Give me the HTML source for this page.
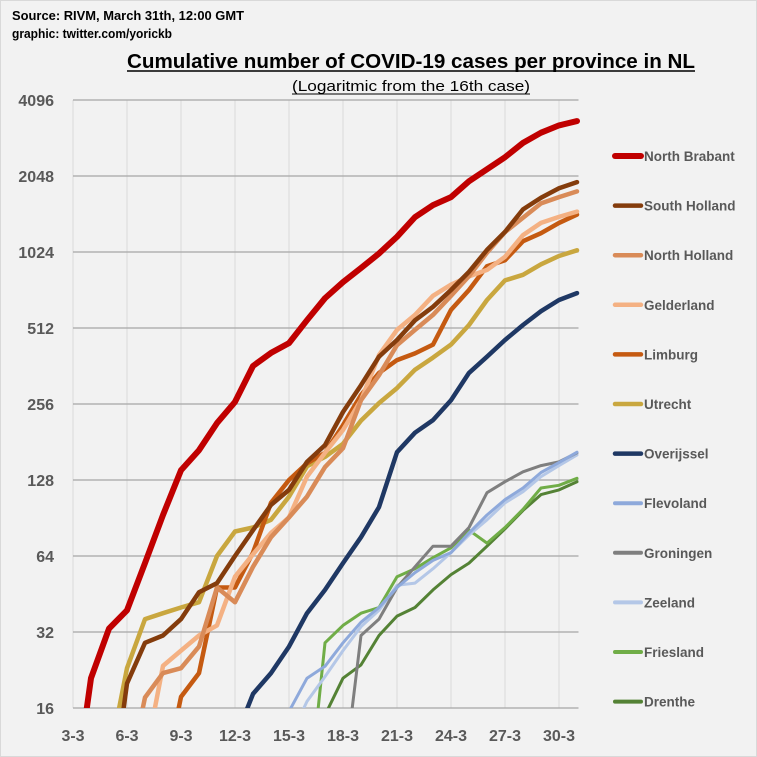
<!DOCTYPE html>
<html><head><meta charset="utf-8"><style>
html,body{margin:0;padding:0;background:#F2F2F2;width:757px;height:757px;overflow:hidden;}
#wrap{position:relative;width:757px;height:757px;overflow:hidden;}
svg{display:block;}
svg text{font-family:"Liberation Sans",sans-serif;}
</style></head><body>
<div id="wrap">
<svg id="chart" width="757" height="757" viewBox="0 0 757 757">
<rect x="0.5" y="0.5" width="756" height="756" fill="#F2F2F2" stroke="#D9D9D9"/>
<text x="12" y="20" font-size="12.5" font-weight="bold" fill="#000" textLength="232" lengthAdjust="spacingAndGlyphs">Source: RIVM, March 31th, 12:00 GMT</text>
<text x="12" y="38" font-size="12.5" font-weight="bold" fill="#000" textLength="160" lengthAdjust="spacingAndGlyphs">graphic: twitter.com/yorickb</text>
<text x="411" y="68" font-size="20" font-weight="bold" fill="#000" text-anchor="middle" textLength="568" lengthAdjust="spacingAndGlyphs">Cumulative number of COVID-19 cases per province in NL</text>
<line x1="127" y1="71" x2="695" y2="71" stroke="#000" stroke-width="1.5"/>
<text x="411" y="91" font-size="15" fill="#000" text-anchor="middle" textLength="238" lengthAdjust="spacingAndGlyphs">(Logaritmic from the 16th case)</text>
<line x1="292" y1="94" x2="530" y2="94" stroke="#000" stroke-width="1"/>
<g id="grid"></g>
<g id="series"></g>
<g id="axes"></g>
<g id="legend"></g>
</svg>
</div>
<script>
const categories = ["3-3","4-3","5-3","6-3","7-3","8-3","9-3","10-3","11-3","12-3","13-3","14-3","15-3","16-3","17-3","18-3","19-3","20-3","21-3","22-3","23-3","24-3","25-3","26-3","27-3","28-3","29-3","30-3","31-3"];
const xTickLabels = ["3-3","6-3","9-3","12-3","15-3","18-3","21-3","24-3","27-3","30-3"];
const yTickValues = [16,32,64,128,256,512,1024,2048,4096];
const seriesNames = ["North Brabant","South Holland","North Holland","Gelderland","Limburg","Utrecht","Overijssel","Flevoland","Groningen","Zeeland","Friesland","Drenthe"];
const northBrabant = [6.5,21,33,39,60,93,140,168,215,261,362,408,446,550,672,778,885,1010,1176,1408,1570,1690,1953,2180,2430,2770,3040,3250,3380];
const southHolland = [null,null,6,20,29,31,36,46,50,64,81,102,117,151,176,238,304,394,459,549,621,724,855,1044,1230,1510,1680,1830,1937];
const northHolland = [null,null,null,8,17.6,22,23,28,48,42,58,76,91,110,144,171,265,333,438,503,577,687,822,1018,1228,1400,1595,1690,1780];
const gelderland = [null,null,null,null,10,23.5,27,31,34,53,65,79,91,132,164,202,265,400,503,577,687,760,820,870,980,1195,1335,1410,1480];
const limburg = [null,null,null,null,null,8,17.7,22,48,48,66,104,128,149,164,211,278,340,382,406,440,604,724,900,950,1130,1215,1335,1440];
const utrecht = [null,null,10,23,36,38,40,42,64,80,83,89,110,145,158,178,220,258,296,350,391,440,526,661,790,832,915,987,1040];
const overijssel = [null,null,null,null,null,null,null,null,null,12,18.2,22,28,38,47,60,76,100,165,197,221,265,340,394,459,526,597,661,704];
const flevoland = [null,null,null,null,null,null,null,null,null,null,null,12,15.5,21,23.4,29,35,40,48,55,61.5,66,79,93,107,119,137,150,165];
const groningen = [null,null,null,null,null,null,null,null,null,null,null,null,null,null,null,8,31,36,48,58,70,70,83,114,126,138,146,151,164];
const zeeland = [null,null,null,null,null,null,null,null,null,null,null,null,12,17,21.3,27,33.6,39,49,50,57,66,77.5,89,104,115,132,146,161];
const friesland = [null,null,null,null,null,null,null,null,null,null,null,null,null,6,29,34,38,40,53,57,63,69,81,72,83,98,119,122,130];
const drenthe = [null,null,null,null,null,null,null,null,null,null,null,null,null,8,15,21,23.7,31,37,40,47,54,60,70,82,97,112,117,126];
const seriesValues = [northBrabant,southHolland,northHolland,gelderland,limburg,utrecht,overijssel,flevoland,groningen,zeeland,friesland,drenthe];
const seriesColors = ["#C00000","#843C0C","#D98B58","#F4B183","#C55A11","#C9A73F","#1F3864","#8EA9DB","#7F7F7F","#B4C7E7","#70AD47","#548235"];
const seriesWidths = [6,4.5,4.5,4.5,4.5,4.5,4.5,3,3,3,3,3];

const NS = "http://www.w3.org/2000/svg";
const L = 73, R = 578.5, T = 100, B = 708;
const dayW = 18;
function xScale(i){ return L + i*dayW; }
function yScale(v){ return B - (Math.log2(v) - 4) * ((B - T) / 8); }
function mk(tag, attrs, parent){ const e = document.createElementNS(NS, tag); for (const k in attrs) e.setAttribute(k, attrs[k]); parent.appendChild(e); return e; }

const grid = document.getElementById('grid');
const axes = document.getElementById('axes');
categories.forEach((c, i) => {
  if (i % 3 !== 0) return;
  const x = xScale(i);
  const gl = mk('line', {x1:x, y1:T, x2:x, y2:B, stroke:'#D9D9D9', 'stroke-width':1}, grid);
  
  
});
xTickLabels.forEach((lab) => {
  const i = categories.indexOf(lab);
  const t = mk('text', {x:xScale(i), y:741, 'font-size':16, 'font-weight':'bold', fill:'#595959', 'text-anchor':'middle'}, axes);
  t.textContent = lab;
  
  
});
yTickValues.forEach((v) => {
  const y = yScale(v);
  const gl = mk('line', {x1:L, y1:y, x2:R, y2:y, stroke:'#A6A6A6', 'stroke-width':1.2}, grid);
  
  
  const t = mk('text', {x:54, y:y+6, 'font-size':16, 'font-weight':'bold', fill:'#595959', 'text-anchor':'end'}, axes);
  t.textContent = String(v);
  
  
});

const defs = mk('defs', {}, document.getElementById('chart'));
const cp = mk('clipPath', {id:'plotclip'}, defs);
mk('rect', {x:L, y:T-10, width:R-L+2, height:B-T+10}, cp);

const series = document.getElementById('series');
series.setAttribute('clip-path', 'url(#plotclip)');
for (let s = seriesValues.length - 1; s >= 0; s--) {
  const vals = seriesValues[s];
  let d = '';
  vals.forEach((v, i) => {
    if (v == null) return;
    d += (d === '' ? 'M' : 'L') + xScale(i).toFixed(1) + ',' + yScale(v).toFixed(1);
  });
  const p = mk('path', {d:d, fill:'none', stroke:seriesColors[s], 'stroke-width':seriesWidths[s], 'stroke-linejoin':'round', 'stroke-linecap':'round'}, series);
  
  
}

const legend = document.getElementById('legend');
seriesNames.forEach((n, i) => {
  const y = 156 + i * 49.6;
  const g = mk('g', {}, legend);
  
  
  mk('line', {x1:615, y1:y, x2:641, y2:y, stroke:seriesColors[i], 'stroke-width':Math.max(seriesWidths[i],4), 'stroke-linecap':'round'}, g);
  const t = mk('text', {x:644, y:y+5, 'font-size':13.5, 'font-weight':'bold', fill:'#595959'}, g);
  t.textContent = n;
});
</script>
</body></html>
